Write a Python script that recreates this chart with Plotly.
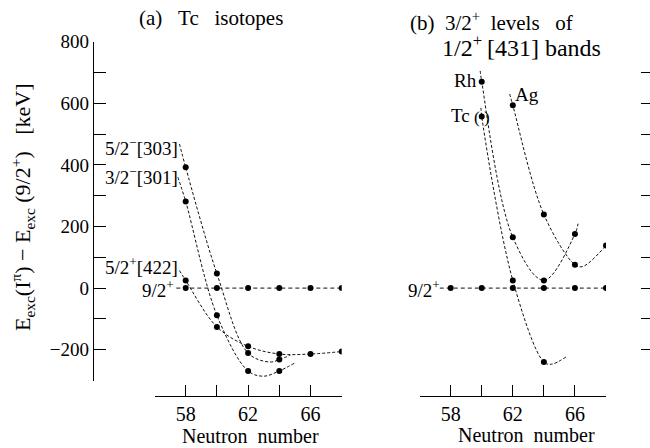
import plotly.graph_objects as go

# ---------------- data ----------------
# Panel (a): Tc isotopes
n_a = [58, 60, 62, 64, 66, 68]
e_a_92 = [0, 0, 0, 0, 0, 0]
n_303 = [58, 60, 62, 64]
e_303 = [392, 47, -211, -232]
n_301 = [58, 60, 62, 64]
e_301 = [281, -88, -269, -269]
n_422 = [58, 60, 62, 64, 66, 68]
e_422 = [25, -126, -189, -214, -214, -206]

# Panel (b): 3/2+ levels of 1/2+[431] bands
n_b = [58, 60, 62, 64, 66, 68]
e_b_92 = [0, 0, 0, 0, 0, 0]
n_rh = [60, 62, 64, 66]
e_rh = [670, 165, 25, 176]
n_tc = [60, 62, 64]
e_tc = [557, 25, -240]
n_ag = [62, 64, 66, 68]
e_ag = [594, 239, 76, 138]

# guide-curve ends / turning points (N, E)
g_303_start, g_303_mid, g_303_end = [(57.6, 468)], [(63.4, -240)], [(64.7, -218)]
g_301_start, g_301_mid, g_301_end = [(57.5, 360)], [(63.0, -286)], [(65.0, -243)]
g_422_start = [(57.6, 57)]
g_92a_start = [(57.4, 0)]
g_92b_start = [(57.3, 0)]
g_rh_start, g_rh_end = [(59.9, 705)], [(66.2, 209)]
g_tc_start, g_tc_mid, g_tc_end = [(59.95, 585)], [(64.5, -247)], [(65.5, -221)]
g_ag_start, g_ag_mid, g_ag_end = [(61.8, 630)], [(66.5, 70)], [(68.3, 157)]

ytick_vals = list(range(-300, 801, 100))
ytick_text = [("\u2212" + str(-v) if v < 0 else str(v)) if v % 200 == 0 else "" for v in ytick_vals]
xtick_vals = [56, 58, 60, 62, 64, 66, 68]
xtick_text = ["", "58", "", "62", "", "66", ""]
rtick_vals = list(range(-300, 701, 100))

FONT = "Liberation Serif"
W, H = 650, 448


def px(x):
    return x / W


def py(y):
    return 1 - y / H


def merge(n, e, *extra):
    pts = list(zip(n, e))
    for ex in extra:
        pts += ex
    pts.sort(key=lambda p: p[0])
    return [p[0] for p in pts], [p[1] for p in pts]


fig = go.Figure()

line_curve = dict(color="#111", width=1, dash="3px,2px", shape="spline", smoothing=1.0)
line_flat = dict(color="#111", width=1, dash="4px,3px")
mk = dict(color="black", size=6)


def guide(n, e, xa, flat=False):
    fig.add_trace(go.Scatter(x=n, y=e, mode="lines", xaxis=xa, yaxis="y",
                             line=line_flat if flat else line_curve,
                             hoverinfo="skip", showlegend=False))


def pts(n, e, xa):
    fig.add_trace(go.Scatter(x=n, y=e, mode="markers", xaxis=xa, yaxis="y",
                             marker=mk, showlegend=False))


# panel (a)
guide(*merge(n_a, e_a_92, g_92a_start), "x", flat=True)
guide(*merge(n_303, e_303, g_303_start, g_303_mid, g_303_end), "x")
guide(*merge(n_301, e_301, g_301_start, g_301_mid, g_301_end), "x")
guide(*merge(n_422, e_422, g_422_start), "x")
for n, e in [(n_a, e_a_92), (n_303, e_303), (n_301, e_301), (n_422, e_422)]:
    pts(n, e, "x")

# panel (b)
guide(*merge(n_b, e_b_92, g_92b_start), "x2", flat=True)
guide(*merge(n_rh, e_rh, g_rh_start, g_rh_end), "x2")
guide(*merge(n_tc, e_tc, g_tc_start, g_tc_mid, g_tc_end), "x2")
guide(*merge(n_ag, e_ag, g_ag_start, g_ag_mid, g_ag_end), "x2")
for n, e in [(n_b, e_b_92), (n_rh, e_rh), (n_tc, e_tc), (n_ag, e_ag)]:
    pts(n, e, "x2")

# invisible trace so that the right-hand tick axis is drawn
fig.add_trace(go.Scatter(x=[None], y=[None], xaxis="x2", yaxis="y3", mode="markers",
                         showlegend=False, hoverinfo="skip"))

xcommon = dict(range=[56, 68], anchor="free", position=py(395.7), showline=True,
               linecolor="black", linewidth=1, ticks="inside", ticklen=11, tickwidth=1,
               tickcolor="black", tickvals=xtick_vals, ticktext=xtick_text, automargin=False,
               showgrid=False, zeroline=False, tickfont=dict(family=FONT, size=20, color="black"))

fig.update_layout(
    width=W, height=H, margin=dict(l=0, r=0, t=0, b=0, autoexpand=False),
    paper_bgcolor="white", plot_bgcolor="white",
    font=dict(family=FONT, size=19, color="black"),
    xaxis=dict(domain=[px(154.5), px(341.7)], **xcommon),
    xaxis2=dict(domain=[px(419.6), px(606.0)], **xcommon),
    yaxis=dict(domain=[py(380.5), py(41.7)], range=[-300, 800], anchor="free",
               position=px(92.7), showline=True, linecolor="black", linewidth=1,
               ticks="inside", ticklen=12, tickwidth=1, tickcolor="black", automargin=False,
               tickvals=ytick_vals, ticktext=ytick_text, showgrid=False, zeroline=False,
               tickfont=dict(family=FONT, size=19, color="black")),
    yaxis3=dict(overlaying="y", side="right", anchor="free", position=1.0,
                range=[-300, 800], showline=False, ticks="inside", ticklen=9, tickwidth=1,
                tickcolor="black", tickvals=rtick_vals, showticklabels=False, automargin=False,
                showgrid=False, zeroline=False),
)

NB = "\u00a0"
TH = "\u2009"


def ann(text, x, y, xanchor="center", size=19, angle=0):
    fig.add_annotation(text=text, x=px(x), y=py(y), xref="paper", yref="paper",
                       xanchor=xanchor, yanchor="middle", showarrow=False, textangle=angle,
                       borderpad=0, font=dict(family=FONT, size=size, color="black"))


# titles
ann("(a)" + NB * 3 + "Tc" + NB * 3 + "isotopes", 138, 18, xanchor="left", size=21)
ann("(b)" + NB * 2 + "3/2<sup>+</sup>" + NB * 2 + "levels" + NB * 3 + "of", 409, 21, xanchor="left", size=21)
ann("1/2<sup>+</sup>" + TH + "[431]" + NB + "bands", 441, 46, xanchor="left", size=24)

# axis titles
ann("E<sub>exc</sub>(I<sup>\u03c0</sup>)" + NB + "\u2212" + NB + "E<sub>exc</sub>" + NB + "(9/2<sup>+</sup>)"
    + NB * 3 + "[keV]", 22, 207, size=22, angle=-90)
ann("Neutron" + NB * 2 + "number", 250, 435.5, size=20)
ann("Neutron" + NB * 2 + "number", 526, 434.5, size=20)

# level labels panel (a)
ann("5/2<sup>\u2212</sup>[303]", 179, 147, xanchor="right")
ann("3/2<sup>\u2212</sup>[301]", 179, 176, xanchor="right")
ann("5/2<sup>+</sup>[422]", 179, 266, xanchor="right")
ann("9/2<sup>+</sup>", 175, 289, xanchor="right")

# labels panel (b)
ann("Rh", 478, 80, xanchor="right")
ann("Tc", 471, 116, xanchor="right")
ann("(", 477, 117, size=17)
ann(")", 487, 117, size=17)
ann("Ag", 514, 94, xanchor="left")
ann("9/2<sup>+</sup>", 441, 289, xanchor="right")

fig.write_html("out.html", config={"displayModeBar": False},
               post_script="document.body.style.margin='0';document.body.style.overflow='hidden';")
